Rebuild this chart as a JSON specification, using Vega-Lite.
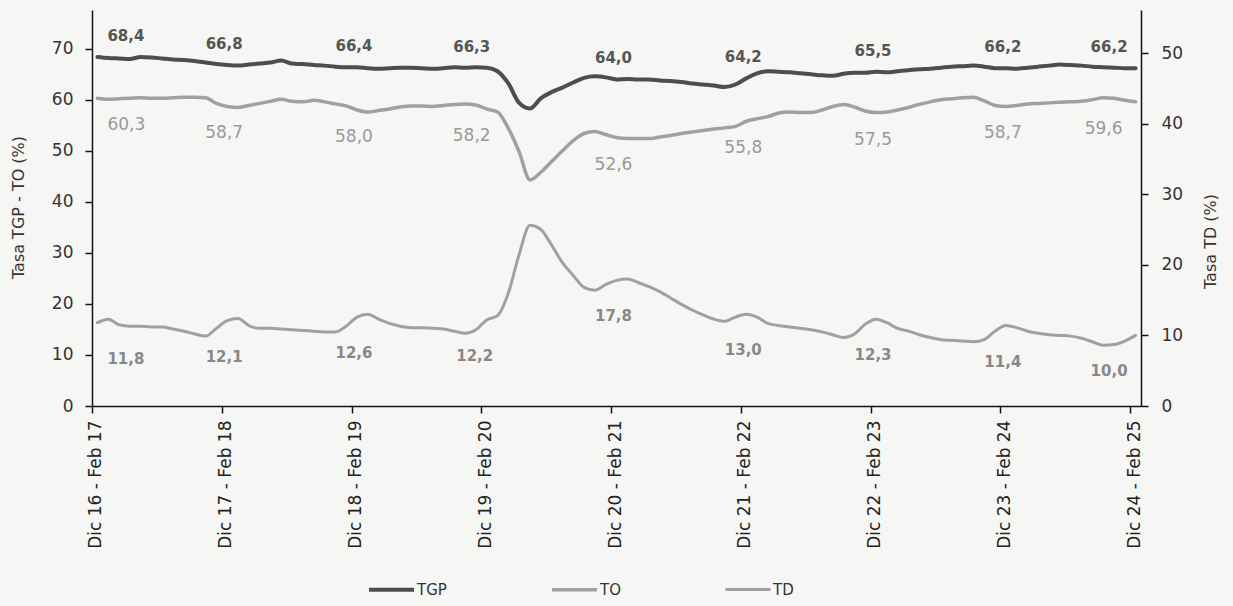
{
  "$schema": "https://vega.github.io/schema/vega-lite/v6.json",
  "width": 1049,
  "height": 396,
  "autosize": {"type": "none"},
  "padding": {"left": 92, "top": 10, "right": 92, "bottom": 200},
  "background": "#f6f6f4",
  "config": {
    "font": "DejaVu Sans",
    "view": {"stroke": null},
    "locale": {"number": {"decimal": ",", "thousands": ".", "grouping": [3], "currency": ["$", ""]}},
    "axis": {"domainColor": "#111", "tickColor": "#111", "domainWidth": 1.5, "tickWidth": 1.5, "tickSize": 7, "labelColor": "#333", "titleColor": "#333", "labelFontSize": 17, "titleFontSize": 16, "titleFontWeight": "normal", "grid": false}
  },
  "data": {"values": [
    {"p": "Dic 16 - Feb 17", "TGP": 68.4, "TO": 60.3, "TD": 11.8},
    {"p": "Ene 17 - Mar 17", "TGP": 68.2, "TO": 60.1, "TD": 12.3},
    {"p": "Feb 17 - Abr 17", "TGP": 68.1, "TO": 60.2, "TD": 11.5},
    {"p": "Mar 17 - May 17", "TGP": 68.0, "TO": 60.3, "TD": 11.3},
    {"p": "Abr 17 - Jun 17", "TGP": 68.4, "TO": 60.4, "TD": 11.3},
    {"p": "May 17 - Jul 17", "TGP": 68.3, "TO": 60.3, "TD": 11.2},
    {"p": "Jun 17 - Ago 17", "TGP": 68.1, "TO": 60.3, "TD": 11.2},
    {"p": "Jul 17 - Sep 17", "TGP": 67.9, "TO": 60.4, "TD": 10.9},
    {"p": "Ago 17 - Oct 17", "TGP": 67.8, "TO": 60.5, "TD": 10.6},
    {"p": "Sep 17 - Nov 17", "TGP": 67.6, "TO": 60.5, "TD": 10.2},
    {"p": "Oct 17 - Dic 17", "TGP": 67.3, "TO": 60.4, "TD": 9.9},
    {"p": "Nov 17 - Ene 18", "TGP": 67.0, "TO": 59.3, "TD": 11.0},
    {"p": "Dic 17 - Feb 18", "TGP": 66.8, "TO": 58.7, "TD": 12.1},
    {"p": "Ene 18 - Mar 18", "TGP": 66.7, "TO": 58.5, "TD": 12.4},
    {"p": "Feb 18 - Abr 18", "TGP": 66.9, "TO": 58.9, "TD": 11.4},
    {"p": "Mar 18 - May 18", "TGP": 67.1, "TO": 59.3, "TD": 11.0},
    {"p": "Abr 18 - Jun 18", "TGP": 67.3, "TO": 59.7, "TD": 11.0},
    {"p": "May 18 - Jul 18", "TGP": 67.7, "TO": 60.1, "TD": 10.9},
    {"p": "Jun 18 - Ago 18", "TGP": 67.1, "TO": 59.7, "TD": 10.8},
    {"p": "Jul 18 - Sep 18", "TGP": 67.0, "TO": 59.6, "TD": 10.7},
    {"p": "Ago 18 - Oct 18", "TGP": 66.8, "TO": 59.9, "TD": 10.6},
    {"p": "Sep 18 - Nov 18", "TGP": 66.7, "TO": 59.6, "TD": 10.5},
    {"p": "Oct 18 - Dic 18", "TGP": 66.5, "TO": 59.2, "TD": 10.5},
    {"p": "Nov 18 - Ene 19", "TGP": 66.4, "TO": 58.8, "TD": 11.3},
    {"p": "Dic 18 - Feb 19", "TGP": 66.4, "TO": 58.0, "TD": 12.6},
    {"p": "Ene 19 - Mar 19", "TGP": 66.2, "TO": 57.6, "TD": 13.0},
    {"p": "Feb 19 - Abr 19", "TGP": 66.1, "TO": 57.9, "TD": 12.3},
    {"p": "Mar 19 - May 19", "TGP": 66.2, "TO": 58.2, "TD": 11.7},
    {"p": "Abr 19 - Jun 19", "TGP": 66.3, "TO": 58.6, "TD": 11.3},
    {"p": "May 19 - Jul 19", "TGP": 66.3, "TO": 58.8, "TD": 11.1},
    {"p": "Jun 19 - Ago 19", "TGP": 66.2, "TO": 58.8, "TD": 11.1},
    {"p": "Jul 19 - Sep 19", "TGP": 66.1, "TO": 58.7, "TD": 11.0},
    {"p": "Ago 19 - Oct 19", "TGP": 66.2, "TO": 58.9, "TD": 10.9},
    {"p": "Sep 19 - Nov 19", "TGP": 66.4, "TO": 59.1, "TD": 10.6},
    {"p": "Oct 19 - Dic 19", "TGP": 66.3, "TO": 59.2, "TD": 10.3},
    {"p": "Nov 19 - Ene 20", "TGP": 66.4, "TO": 59.0, "TD": 10.8},
    {"p": "Dic 19 - Feb 20", "TGP": 66.3, "TO": 58.2, "TD": 12.2},
    {"p": "Ene 20 - Mar 20", "TGP": 65.6, "TO": 57.6, "TD": 12.8},
    {"p": "Feb 20 - Abr 20", "TGP": 63.2, "TO": 54.4, "TD": 16.0},
    {"p": "Mar 20 - May 20", "TGP": 59.4, "TO": 49.8, "TD": 21.5},
    {"p": "Abr 20 - Jun 20", "TGP": 58.3, "TO": 44.3, "TD": 25.6},
    {"p": "May 20 - Jul 20", "TGP": 60.3, "TO": 45.8, "TD": 25.0},
    {"p": "Jun 20 - Ago 20", "TGP": 61.5, "TO": 47.9, "TD": 22.8},
    {"p": "Jul 20 - Sep 20", "TGP": 62.4, "TO": 50.0, "TD": 20.3},
    {"p": "Ago 20 - Oct 20", "TGP": 63.4, "TO": 52.0, "TD": 18.5},
    {"p": "Sep 20 - Nov 20", "TGP": 64.3, "TO": 53.4, "TD": 16.8},
    {"p": "Oct 20 - Dic 20", "TGP": 64.6, "TO": 53.8, "TD": 16.4},
    {"p": "Nov 20 - Ene 21", "TGP": 64.4, "TO": 53.2, "TD": 17.2},
    {"p": "Dic 20 - Feb 21", "TGP": 64.0, "TO": 52.6, "TD": 17.8},
    {"p": "Ene 21 - Mar 21", "TGP": 64.1, "TO": 52.4, "TD": 18.0},
    {"p": "Feb 21 - Abr 21", "TGP": 64.0, "TO": 52.4, "TD": 17.5},
    {"p": "Mar 21 - May 21", "TGP": 64.0, "TO": 52.4, "TD": 16.9},
    {"p": "Abr 21 - Jun 21", "TGP": 63.8, "TO": 52.7, "TD": 16.2},
    {"p": "May 21 - Jul 21", "TGP": 63.7, "TO": 53.0, "TD": 15.3},
    {"p": "Jun 21 - Ago 21", "TGP": 63.5, "TO": 53.4, "TD": 14.4},
    {"p": "Jul 21 - Sep 21", "TGP": 63.2, "TO": 53.7, "TD": 13.6},
    {"p": "Ago 21 - Oct 21", "TGP": 63.0, "TO": 54.0, "TD": 12.9},
    {"p": "Sep 21 - Nov 21", "TGP": 62.8, "TO": 54.3, "TD": 12.3},
    {"p": "Oct 21 - Dic 21", "TGP": 62.5, "TO": 54.5, "TD": 12.0},
    {"p": "Nov 21 - Ene 22", "TGP": 63.0, "TO": 54.8, "TD": 12.6},
    {"p": "Dic 21 - Feb 22", "TGP": 64.2, "TO": 55.8, "TD": 13.0},
    {"p": "Ene 22 - Mar 22", "TGP": 65.2, "TO": 56.3, "TD": 12.6},
    {"p": "Feb 22 - Abr 22", "TGP": 65.6, "TO": 56.7, "TD": 11.7},
    {"p": "Mar 22 - May 22", "TGP": 65.5, "TO": 57.4, "TD": 11.4},
    {"p": "Abr 22 - Jun 22", "TGP": 65.4, "TO": 57.6, "TD": 11.2},
    {"p": "May 22 - Jul 22", "TGP": 65.2, "TO": 57.5, "TD": 11.0},
    {"p": "Jun 22 - Ago 22", "TGP": 65.0, "TO": 57.5, "TD": 10.8},
    {"p": "Jul 22 - Sep 22", "TGP": 64.8, "TO": 58.0, "TD": 10.5},
    {"p": "Ago 22 - Oct 22", "TGP": 64.7, "TO": 58.7, "TD": 10.1},
    {"p": "Sep 22 - Nov 22", "TGP": 65.1, "TO": 59.1, "TD": 9.7},
    {"p": "Oct 22 - Dic 22", "TGP": 65.3, "TO": 58.6, "TD": 10.2},
    {"p": "Nov 22 - Ene 23", "TGP": 65.3, "TO": 57.8, "TD": 11.6},
    {"p": "Dic 22 - Feb 23", "TGP": 65.5, "TO": 57.5, "TD": 12.3},
    {"p": "Ene 23 - Mar 23", "TGP": 65.4, "TO": 57.6, "TD": 11.8},
    {"p": "Feb 23 - Abr 23", "TGP": 65.6, "TO": 58.0, "TD": 11.0},
    {"p": "Mar 23 - May 23", "TGP": 65.8, "TO": 58.5, "TD": 10.6},
    {"p": "Abr 23 - Jun 23", "TGP": 66.0, "TO": 59.1, "TD": 10.1},
    {"p": "May 23 - Jul 23", "TGP": 66.1, "TO": 59.6, "TD": 9.7},
    {"p": "Jun 23 - Ago 23", "TGP": 66.3, "TO": 60.0, "TD": 9.4},
    {"p": "Jul 23 - Sep 23", "TGP": 66.5, "TO": 60.2, "TD": 9.3},
    {"p": "Ago 23 - Oct 23", "TGP": 66.6, "TO": 60.4, "TD": 9.2},
    {"p": "Sep 23 - Nov 23", "TGP": 66.7, "TO": 60.5, "TD": 9.1},
    {"p": "Oct 23 - Dic 23", "TGP": 66.5, "TO": 59.8, "TD": 9.4},
    {"p": "Nov 23 - Ene 24", "TGP": 66.2, "TO": 58.9, "TD": 10.6},
    {"p": "Dic 23 - Feb 24", "TGP": 66.2, "TO": 58.7, "TD": 11.4},
    {"p": "Ene 24 - Mar 24", "TGP": 66.1, "TO": 58.9, "TD": 11.1},
    {"p": "Feb 24 - Abr 24", "TGP": 66.3, "TO": 59.2, "TD": 10.6},
    {"p": "Mar 24 - May 24", "TGP": 66.5, "TO": 59.3, "TD": 10.3},
    {"p": "Abr 24 - Jun 24", "TGP": 66.7, "TO": 59.4, "TD": 10.1},
    {"p": "May 24 - Jul 24", "TGP": 66.9, "TO": 59.5, "TD": 10.0},
    {"p": "Jun 24 - Ago 24", "TGP": 66.8, "TO": 59.6, "TD": 9.9},
    {"p": "Jul 24 - Sep 24", "TGP": 66.7, "TO": 59.7, "TD": 9.6},
    {"p": "Ago 24 - Oct 24", "TGP": 66.5, "TO": 60.0, "TD": 9.1},
    {"p": "Sep 24 - Nov 24", "TGP": 66.4, "TO": 60.4, "TD": 8.6},
    {"p": "Oct 24 - Dic 24", "TGP": 66.3, "TO": 60.3, "TD": 8.7},
    {"p": "Nov 24 - Ene 25", "TGP": 66.2, "TO": 59.9, "TD": 9.2},
    {"p": "Dic 24 - Feb 25", "TGP": 66.2, "TO": 59.6, "TD": 10.0}
  ]},
  "encoding": {
    "x": {
      "field": "p", "type": "ordinal", "sort": null,
      "scale": {"type": "point", "padding": 0.5},
      "axis": {
        "values": ["Dic 16 - Feb 17", "Dic 17 - Feb 18", "Dic 18 - Feb 19", "Dic 19 - Feb 20", "Dic 20 - Feb 21", "Dic 21 - Feb 22", "Dic 22 - Feb 23", "Dic 23 - Feb 24", "Dic 24 - Feb 25"],
        "title": null, "labelAngle": -90, "labelAlign": "right", "labelBaseline": "middle",
        "labelPadding": 7, "tickOffset": -5.41, "labelOffset": 4, "labelFontSize": 17, "labelColor": "#222"
      }
    }
  },
  "layer": [
    {
      "encoding": {
        "y": {
          "field": "valor", "type": "quantitative",
          "scale": {"domain": [0, 77.6], "nice": false},
          "axis": {"values": [0, 10, 20, 30, 40, 50, 60, 70], "title": "Tasa TGP - TO (%)", "labelPadding": 12,
                   "titleX": -74, "titleY": 197, "titleAngle": -90, "titleAlign": "center", "titleBaseline": "middle"}
        }
      },
      "layer": [
        {
          "transform": [{"fold": ["TGP", "TO"], "as": ["serie", "valor"]}],
          "mark": {"type": "line", "interpolate": "monotone", "strokeCap": "round"},
          "encoding": {
            "color": {"field": "serie", "type": "nominal", "scale": {"domain": ["TGP", "TO", "TD"], "range": ["#4d4d4d", "#a0a0a0", "#a0a0a0"]},
                      "legend": {"orient": "none", "direction": "horizontal", "legendX": 275, "legendY": 555, "title": null, "symbolType": "stroke", "symbolSize": 2025, "symbolStrokeWidth": 4, "labelFontSize": 15, "labelColor": "#333", "labelOffset": 1, "columnPadding": 98}},
            "strokeWidth": {"field": "serie", "type": "nominal", "scale": {"domain": ["TGP", "TO", "TD"], "range": [4, 3, 3]}, "legend": null}
          }
        },
        {
          "transform": [{"filter": {"field": "p", "equal": "Dic 16 - Feb 17"}}, {"fold": ["TGP"], "as": ["serie", "valor"]}],
          "mark": {"type": "text", "align": "left", "baseline": "middle", "dx": 10, "dy": -21, "fontSize": 15, "fontWeight": "bold", "color": "#555"},
          "encoding": {"text": {"field": "valor", "type": "quantitative", "format": ".1f"}}
        },
        {
          "transform": [{"filter": {"field": "p", "oneOf": ["Dic 17 - Feb 18", "Dic 18 - Feb 19", "Dic 20 - Feb 21", "Dic 21 - Feb 22", "Dic 22 - Feb 23", "Dic 23 - Feb 24"]}}, {"fold": ["TGP"], "as": ["serie", "valor"]}],
          "mark": {"type": "text", "align": "center", "baseline": "middle", "dx": -3, "dy": -21, "fontSize": 15, "fontWeight": "bold", "color": "#555"},
          "encoding": {"text": {"field": "valor", "type": "quantitative", "format": ".1f"}}
        },
        {
          "transform": [{"filter": {"field": "p", "equal": "Dic 19 - Feb 20"}}, {"fold": ["TGP"], "as": ["serie", "valor"]}],
          "mark": {"type": "text", "align": "center", "baseline": "middle", "dx": -15, "dy": -21, "fontSize": 15, "fontWeight": "bold", "color": "#555"},
          "encoding": {"text": {"field": "valor", "type": "quantitative", "format": ".1f"}}
        },
        {
          "transform": [{"filter": {"field": "p", "equal": "Dic 24 - Feb 25"}}, {"fold": ["TGP"], "as": ["serie", "valor"]}],
          "mark": {"type": "text", "align": "right", "baseline": "middle", "dx": -8, "dy": -21, "fontSize": 15, "fontWeight": "bold", "color": "#555"},
          "encoding": {"text": {"field": "valor", "type": "quantitative", "format": ".1f"}}
        },
        {
          "transform": [{"filter": {"field": "p", "equal": "Dic 16 - Feb 17"}}, {"fold": ["TO"], "as": ["serie", "valor"]}],
          "mark": {"type": "text", "align": "left", "baseline": "middle", "dx": 10, "dy": 27, "fontSize": 17, "color": "#9a9a9a"},
          "encoding": {"text": {"field": "valor", "type": "quantitative", "format": ".1f"}}
        },
        {
          "transform": [{"filter": {"field": "p", "oneOf": ["Dic 17 - Feb 18", "Dic 18 - Feb 19", "Dic 20 - Feb 21", "Dic 21 - Feb 22", "Dic 22 - Feb 23", "Dic 23 - Feb 24"]}}, {"fold": ["TO"], "as": ["serie", "valor"]}],
          "mark": {"type": "text", "align": "center", "baseline": "middle", "dx": -3, "dy": 27, "fontSize": 17, "color": "#9a9a9a"},
          "encoding": {"text": {"field": "valor", "type": "quantitative", "format": ".1f"}}
        },
        {
          "transform": [{"filter": {"field": "p", "equal": "Dic 19 - Feb 20"}}, {"fold": ["TO"], "as": ["serie", "valor"]}],
          "mark": {"type": "text", "align": "center", "baseline": "middle", "dx": -15, "dy": 27, "fontSize": 17, "color": "#9a9a9a"},
          "encoding": {"text": {"field": "valor", "type": "quantitative", "format": ".1f"}}
        },
        {
          "transform": [{"filter": {"field": "p", "equal": "Dic 24 - Feb 25"}}, {"fold": ["TO"], "as": ["serie", "valor"]}],
          "mark": {"type": "text", "align": "right", "baseline": "middle", "dx": -13, "dy": 27, "fontSize": 17, "color": "#9a9a9a"},
          "encoding": {"text": {"field": "valor", "type": "quantitative", "format": ".1f"}}
        }
      ]
    },
    {
      "encoding": {
        "y": {
          "field": "valor", "type": "quantitative",
          "scale": {"domain": [0, 56.1], "nice": false},
          "axis": {"orient": "right", "values": [0, 10, 20, 30, 40, 50], "title": "Tasa TD (%)", "labelPadding": 13,
                   "titleX": 69, "titleY": 231, "titleAngle": -90, "titleAlign": "center", "titleBaseline": "middle"}
        }
      },
      "layer": [
        {
          "transform": [{"fold": ["TD"], "as": ["serie", "valor"]}],
          "mark": {"type": "line", "interpolate": "monotone", "strokeCap": "round"},
          "encoding": {
            "color": {"field": "serie", "type": "nominal", "scale": {"domain": ["TGP", "TO", "TD"], "range": ["#4d4d4d", "#a0a0a0", "#a0a0a0"]},
                      "legend": {"orient": "none", "direction": "horizontal", "legendX": 275, "legendY": 555, "title": null, "symbolType": "stroke", "symbolSize": 2025, "symbolStrokeWidth": 4, "labelFontSize": 15, "labelColor": "#333", "labelOffset": 1, "columnPadding": 98}},
            "strokeWidth": {"field": "serie", "type": "nominal", "scale": {"domain": ["TGP", "TO", "TD"], "range": [4, 3, 3]}, "legend": null}
          }
        },
        {
          "transform": [{"filter": {"field": "p", "equal": "Dic 16 - Feb 17"}}, {"fold": ["TD"], "as": ["serie", "valor"]}],
          "mark": {"type": "text", "align": "left", "baseline": "middle", "dx": 10, "dy": 36, "fontSize": 15, "fontWeight": "bold", "color": "#888"},
          "encoding": {"text": {"field": "valor", "type": "quantitative", "format": ".1f"}}
        },
        {
          "transform": [{"filter": {"field": "p", "oneOf": ["Dic 17 - Feb 18", "Dic 18 - Feb 19", "Dic 20 - Feb 21", "Dic 21 - Feb 22", "Dic 22 - Feb 23", "Dic 23 - Feb 24"]}}, {"fold": ["TD"], "as": ["serie", "valor"]}],
          "mark": {"type": "text", "align": "center", "baseline": "middle", "dx": -3, "dy": 36, "fontSize": 15, "fontWeight": "bold", "color": "#888"},
          "encoding": {"text": {"field": "valor", "type": "quantitative", "format": ".1f"}}
        },
        {
          "transform": [{"filter": {"field": "p", "equal": "Dic 19 - Feb 20"}}, {"fold": ["TD"], "as": ["serie", "valor"]}],
          "mark": {"type": "text", "align": "center", "baseline": "middle", "dx": -12, "dy": 36, "fontSize": 15, "fontWeight": "bold", "color": "#888"},
          "encoding": {"text": {"field": "valor", "type": "quantitative", "format": ".1f"}}
        },
        {
          "transform": [{"filter": {"field": "p", "equal": "Dic 24 - Feb 25"}}, {"fold": ["TD"], "as": ["serie", "valor"]}],
          "mark": {"type": "text", "align": "right", "baseline": "middle", "dx": -8, "dy": 36, "fontSize": 15, "fontWeight": "bold", "color": "#888"},
          "encoding": {"text": {"field": "valor", "type": "quantitative", "format": ".1f"}}
        }
      ]
    }
  ],
  "resolve": {"scale": {"y": "independent"}}
}
